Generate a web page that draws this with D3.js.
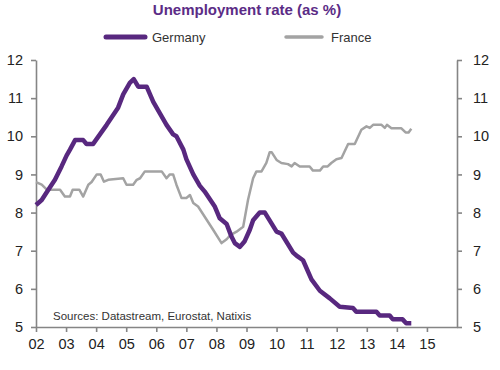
<!DOCTYPE html>
<html>
<head>
<meta charset="utf-8">
<script src="https://cdn.jsdelivr.net/npm/d3@7"></script>
<style>
  body { margin: 0; background: #fff; }
  svg { display: block; font-family: "Liberation Sans", Arial, sans-serif; }
</style>
</head>
<body>
<div id="chart"></div>
<script>
// data (decimal years, % unemployment)
var germanyDates = [2002.0, 2002.19, 2002.41, 2002.63, 2002.85, 2003.02, 2003.13, 2003.3, 2003.57, 2003.68,
  2003.9, 2004.35, 2004.73, 2004.9, 2005.12, 2005.25, 2005.4, 2005.68, 2005.9, 2006.12,
  2006.34, 2006.56, 2006.67, 2006.9, 2007.0, 2007.23, 2007.45, 2007.61, 2007.95, 2008.11,
  2008.34, 2008.5, 2008.61, 2008.78, 2008.94, 2009.11, 2009.22, 2009.44, 2009.61, 2010.0,
  2010.16, 2010.55, 2010.7, 2010.88, 2011.16, 2011.44, 2011.77, 2012.1, 2012.54, 2012.65,
  2013.32, 2013.43, 2013.76, 2013.87, 2014.19, 2014.31, 2014.48];
var germanyValues = [8.2, 8.33, 8.6, 8.86, 9.21, 9.5, 9.65, 9.9, 9.9, 9.8,
  9.8, 10.3, 10.75, 11.1, 11.4, 11.5, 11.3, 11.3, 10.9, 10.6,
  10.3, 10.05, 10.0, 9.65, 9.4, 9.0, 8.7, 8.55, 8.15, 7.85,
  7.7, 7.37, 7.2, 7.1, 7.25, 7.55, 7.8, 8.0, 8.0, 7.5,
  7.45, 6.95, 6.85, 6.75, 6.25, 5.95, 5.75, 5.53, 5.5, 5.4,
  5.4, 5.3, 5.3, 5.2, 5.2, 5.1, 5.1];

var franceDates = [2002.0, 2002.19, 2002.36, 2002.8, 2002.96, 2003.13, 2003.22, 2003.44, 2003.57, 2003.74,
  2003.85, 2004.02, 2004.15, 2004.26, 2004.4, 2004.9, 2005.01, 2005.23, 2005.35, 2005.46,
  2005.62, 2006.18, 2006.34, 2006.45, 2006.56, 2006.67, 2006.84, 2007.0, 2007.12, 2007.23,
  2007.39, 2007.89, 2008.17, 2008.34, 2008.45, 2008.67, 2008.89, 2009.05, 2009.22, 2009.33,
  2009.5, 2009.66, 2009.77, 2009.84, 2010.0, 2010.16, 2010.38, 2010.5, 2010.6, 2010.77,
  2011.1, 2011.21, 2011.44, 2011.55, 2011.7, 2011.82, 2011.99, 2012.16, 2012.38, 2012.6,
  2012.82, 2012.99, 2013.1, 2013.21, 2013.49, 2013.6, 2013.67, 2013.82, 2014.15, 2014.29,
  2014.39, 2014.48];
var franceValues = [8.8, 8.73, 8.6, 8.6, 8.42, 8.42, 8.6, 8.6, 8.42, 8.73,
  8.8, 9.0, 9.0, 8.81, 8.86, 8.9, 8.73, 8.73, 8.86, 8.9,
  9.08, 9.08, 8.9, 9.0, 9.0, 8.73, 8.38, 8.38, 8.46, 8.25,
  8.16, 7.55, 7.2, 7.3, 7.4, 7.5, 7.63, 8.33, 8.9, 9.08,
  9.08, 9.3, 9.58, 9.58, 9.38, 9.3, 9.27, 9.21, 9.3, 9.21,
  9.21, 9.1, 9.1, 9.21, 9.21, 9.3, 9.4, 9.43, 9.8, 9.8,
  10.17, 10.26, 10.22, 10.3, 10.3, 10.22, 10.3, 10.21, 10.21, 10.1,
  10.1, 10.2];

var yearTicks = [2002, 2003, 2004, 2005, 2006, 2007, 2008, 2009, 2010, 2011, 2012, 2013, 2014, 2015];
var valueTicks = [5, 6, 7, 8, 9, 10, 11, 12];

var germanyColor = "#58287f",
    franceColor = "#a3a3a3",
    axisColor = "#858585";

// set the dimensions and margins of the graph
var margin = { top: 60, right: 43, bottom: 43, left: 36 },
    width = 500 - margin.left - margin.right,
    height = 370 - margin.top - margin.bottom;

var root = d3.select("#chart")
    .append("svg")
    .attr("width", 500)
    .attr("height", 370);

var svg = root.append("g")
    .attr("transform", "translate(" + margin.left + "," + margin.top + ")");

// scales
var x = d3.scaleLinear().domain([2002, 2016]).range([0, width]);
var y = d3.scaleLinear().domain([5, 12]).range([height, 0]);

// title
root.append("text")
    .attr("x", 247)
    .attr("y", 15)
    .attr("text-anchor", "middle")
    .style("font-size", "15px")
    .style("font-weight", "bold")
    .style("fill", "#5b2c86")
    .text("Unemployment rate (as %)");

// legend
var legend = root.append("g");
legend.append("line")
    .attr("x1", 106).attr("x2", 145).attr("y1", 37).attr("y2", 37)
    .style("stroke", germanyColor).style("stroke-width", 5).style("stroke-linecap", "round");
legend.append("text")
    .attr("x", 152).attr("y", 41.5)
    .style("font-size", "13px").style("fill", "#333")
    .text("Germany");
legend.append("line")
    .attr("x1", 286).attr("x2", 322).attr("y1", 37).attr("y2", 37)
    .style("stroke", franceColor).style("stroke-width", 3.5).style("stroke-linecap", "round");
legend.append("text")
    .attr("x", 331).attr("y", 41.5)
    .style("font-size", "13px").style("fill", "#333")
    .text("France");

// axes
var axisLeft = svg.append("g")
    .call(d3.axisLeft(y).tickValues(valueTicks).tickSize(5).tickSizeOuter(0).tickPadding(8).tickFormat(d3.format("d")));

var axisRight = svg.append("g")
    .attr("transform", "translate(" + width + ",0)")
    .call(d3.axisRight(y).tickValues(valueTicks).tickSize(5).tickSizeOuter(0).tickPadding(11).tickFormat(d3.format("d")));

var axisBottom = svg.append("g")
    .attr("transform", "translate(0," + height + ")")
    .call(d3.axisBottom(x).tickValues(yearTicks).tickSize(5).tickSizeOuter(0).tickPadding(7)
        .tickFormat(function (d) { return String(d % 100).padStart(2, "0"); }));

[axisLeft, axisRight, axisBottom].forEach(function (a) {
    a.selectAll("path, line").style("stroke", axisColor).style("stroke-width", 1.6);
    a.selectAll("text").style("font-size", "14.5px").style("fill", "#222")
        .style("font-family", "'Liberation Sans', Arial, sans-serif");
});

// lines
var line = d3.line()
    .x(function (d) { return x(d[0]); })
    .y(function (d) { return y(d[1]); });

var franceData = franceDates.map(function (d, i) { return [d, franceValues[i]]; });
var germanyData = germanyDates.map(function (d, i) { return [d, germanyValues[i]]; });

svg.append("path")
    .datum(franceData)
    .attr("d", line)
    .style("fill", "none")
    .style("stroke", franceColor)
    .style("stroke-width", 2.5)
    .style("stroke-linejoin", "round");

svg.append("path")
    .datum(germanyData)
    .attr("d", line)
    .style("fill", "none")
    .style("stroke", germanyColor)
    .style("stroke-width", 4.5)
    .style("stroke-linejoin", "round");

// source note
svg.append("text")
    .attr("x", 53 - margin.left)
    .attr("y", 319.5 - margin.top)
    .style("font-size", "11.5px")
    .style("fill", "#333")
    .text("Sources: Datastream, Eurostat, Natixis");
</script>
</body>
</html>
